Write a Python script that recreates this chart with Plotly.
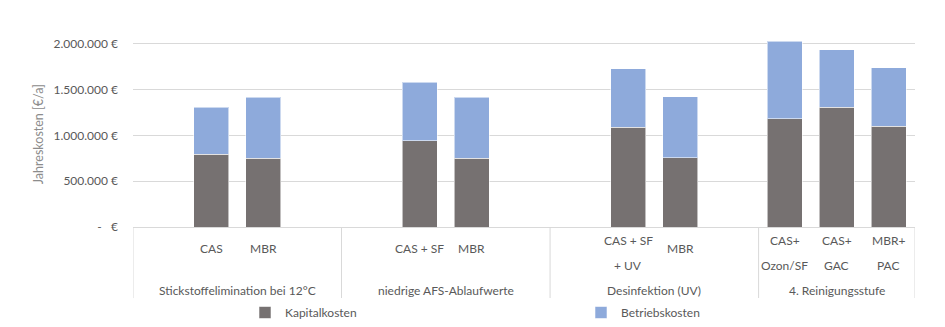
import plotly.graph_objects as go

# Annual cost comparison of treatment options, grouped by treatment goal
groups = [
    "Stickstoffelimination bei 12°C",
    "niedrige AFS-Ablaufwerte",
    "Desinfektion (UV)",
    "4. Reinigungsstufe",
]
# options per group; "" marks an empty slot on the category axis
group_options = [
    ["", "CAS", "MBR", ""],
    ["", "CAS + SF", "MBR", ""],
    ["", "CAS + SF<br>+ UV", "MBR", ""],
    ["CAS+<br>Ozon/SF", "CAS+<br>GAC", "MBR+<br>PAC"],
]
kapitalkosten = [793000, 750000, 944000, 750000, 1092000, 754000, 1185000, 1307000, 1099000]
betriebskosten = [517000, 668000, 635000, 668000, 635000, 668000, 844000, 632000, 639000]

y_ticks = [0, 500000, 1000000, 1500000, 2000000]
y_ticktext = ["-   €", "500.000 €", "1.000.000 €", "1.500.000 €", "2.000.000 €"]

FONT = "Lato"
GREY_TXT = "#595959"
LINE = "#d9d9d9"

W, H = 945, 327
M_L, M_R, M_T, M_B = 133, 30, 0, 97
PLOT_W = W - M_L - M_R
PLOT_H = H - M_T - M_B


def py(pix):
    """Vertical pixel position in the page -> paper coordinate."""
    return (PLOT_H + M_T - pix) / PLOT_H


def px(pix):
    """Horizontal pixel position in the page -> paper coordinate."""
    return (pix - M_L) / PLOT_W


# slot index of every bar along the x axis, and group boundaries
bar_x, bar_labels, bounds, centers = [], [], [-0.5], []
slot = 0
for opts in group_options:
    start = slot
    for o in opts:
        if o:
            bar_x.append(slot)
            bar_labels.append(o)
        slot += 1
    bounds.append(slot - 0.5)
    centers.append((start + slot - 1) / 2)

fig = go.Figure()
fig.add_bar(
    x=bar_x, y=kapitalkosten, name="Kapitalkosten",
    marker=dict(color="#767171", line=dict(color="rgba(255,255,255,0.55)", width=1)),
)
fig.add_bar(
    x=bar_x, y=betriebskosten, name="Betriebskosten",
    marker=dict(color="#8eaadb", line=dict(color="rgba(255,255,255,0.55)", width=1)),
)

annotations = []
# option labels under each bar
for xv, lab in zip(bar_x, bar_labels):
    lines = lab.split("<br>")
    ys = [252] if len(lines) == 1 else [244, 269]
    for t, yp in zip(lines, ys):
        annotations.append(dict(
            x=xv, xref="x", y=py(yp), yref="paper", text=t, showarrow=False,
            xanchor="center", yanchor="middle",
            font=dict(family=FONT, size=12, color=GREY_TXT),
        ))
# group labels
for c, g in zip(centers, groups):
    annotations.append(dict(
        x=c, xref="x", y=py(294), yref="paper", text=g, showarrow=False,
        xanchor="center", yanchor="middle",
        font=dict(family=FONT, size=12, color=GREY_TXT),
    ))
# y axis title
annotations.append(dict(
    x=px(38), xref="paper", y=py(136), yref="paper", xanchor="center", yanchor="middle",
    text="Jahreskosten [€/a]", textangle=-90, showarrow=False,
    font=dict(family=FONT, size=12.5, color="#8c8c8c"),
))

# vertical dividers of the category axis
shapes = []
for b in bounds:
    shapes.append(dict(
        type="line", xref="x", yref="paper", x0=b, x1=b, y0=0, y1=py(302),
        line=dict(color=LINE, width=1),
    ))

fig.update_layout(
    width=W, height=H,
    margin=dict(l=M_L, r=M_R, t=M_T, b=M_B),
    barmode="stack", bargap=0.33,
    plot_bgcolor="white", paper_bgcolor="white",
    font=dict(family=FONT, size=12, color=GREY_TXT),
    xaxis=dict(
        range=[-0.5, slot - 0.5], showticklabels=False, showgrid=False,
        zeroline=False, showline=True, linecolor=LINE, linewidth=1, ticks="",
    ),
    yaxis=dict(
        range=[0, 2480000], tickvals=y_ticks, ticktext=y_ticktext,
        showgrid=True, gridcolor=LINE, gridwidth=1, zeroline=False,
        showline=False, ticks="", ticklabelstandoff=14,
        tickfont=dict(family=FONT, size=12, color=GREY_TXT),
    ),
    legend=dict(
        orientation="h", x=px(245), xanchor="left",
        y=py(317), yanchor="middle", entrywidth=291, entrywidthmode="pixels",
        font=dict(family=FONT, size=12, color=GREY_TXT), traceorder="normal",
    ),
    annotations=annotations,
    shapes=shapes,
)

fig.write_html("out.html")
